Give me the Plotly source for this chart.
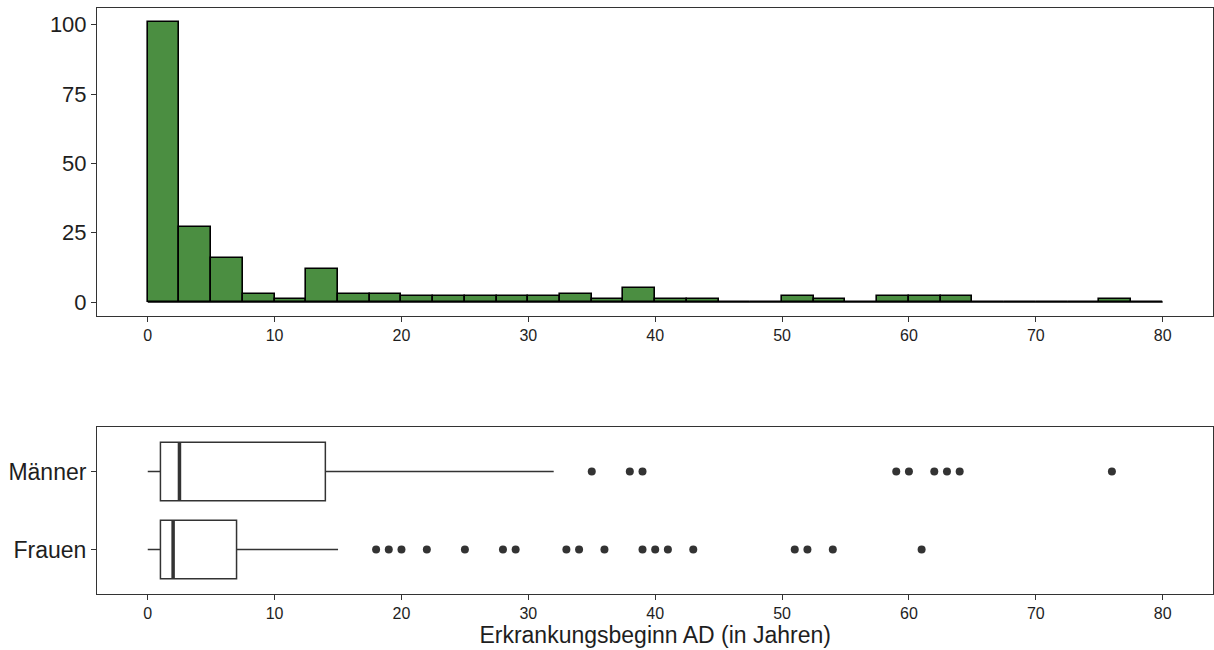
import numpy as np
import plotly.graph_objects as go

# ---------------- data ----------------
bin_width = 2.5
bin_starts = [i * 2.5 for i in range(32)]  # 0 .. 77.5
counts = [101, 27, 16, 3, 1, 12, 3, 3, 2, 2, 2, 2, 2, 3, 1, 5,
          1, 1, 0, 0, 2, 1, 0, 2, 2, 2, 0, 0, 0, 0, 1, 0]

groups = ["Frauen", "Männer"]
group_pos = [1, 2]
lowerfence = [0, 0]
q1 = [1, 1]
median = [2, 2.5]
q3 = [7, 14]
upperfence = [15, 32]
outliers_frauen = [18, 19, 20, 22, 25, 28, 29, 33, 34, 36, 39, 40, 41, 43, 51, 52, 54, 61]
outliers_maenner = [35, 38, 39, 59, 60, 62, 63, 64, 76]

x_ticks = [0, 10, 20, 30, 40, 50, 60, 70, 80]
y_ticks_hist = [0, 25, 50, 75, 100]
x_title = "Erkrankungsbeginn AD (in Jahren)"

# ---------------- style ----------------
FONT = "Liberation Sans, Arial, sans-serif"
GREEN = "#4B8E41"
DARK = "#333333"
TICKCOL = "#1E1E1E"
box_w = 0.75

fig = go.Figure()

# histogram bars
centers = [s + bin_width / 2 for s in bin_starts]
fig.add_trace(go.Bar(
    x=centers, y=counts, width=[bin_width] * len(counts),
    marker=dict(color=GREEN, line=dict(color="black", width=1.6)),
    xaxis="x", yaxis="y", showlegend=False, hoverinfo="x+y"))
# zero-height bins baseline
fig.add_trace(go.Scatter(
    x=[bin_starts[0], bin_starts[-1] + bin_width], y=[0, 0], mode="lines",
    line=dict(color="black", width=1.6), xaxis="x", yaxis="y",
    showlegend=False, hoverinfo="skip"))

# boxplots
for i, g in enumerate(groups):
    fig.add_trace(go.Box(
        y=[group_pos[i]], q1=[q1[i]], median=[median[i]], q3=[q3[i]],
        lowerfence=[lowerfence[i]], upperfence=[upperfence[i]],
        orientation="h", width=box_w, whiskerwidth=0,
        fillcolor="white", line=dict(color=DARK, width=1.5),
        xaxis="x2", yaxis="y2", showlegend=False, name=g))
    # thicker median line (ggplot style)
    fig.add_trace(go.Scatter(
        x=[median[i], median[i]],
        y=[group_pos[i] - box_w / 2, group_pos[i] + box_w / 2],
        mode="lines", line=dict(color=DARK, width=3.5),
        xaxis="x2", yaxis="y2", showlegend=False, hoverinfo="skip"))

for vals, pos in [(outliers_frauen, group_pos[0]), (outliers_maenner, group_pos[1])]:
    fig.add_trace(go.Scatter(
        x=vals, y=[pos] * len(vals), mode="markers",
        marker=dict(color=DARK, size=8),
        xaxis="x2", yaxis="y2", showlegend=False))

H = 650.0
axis_common = dict(showline=True, mirror=True, linecolor=DARK, linewidth=1,
                   ticks="outside", ticklen=5, tickcolor=DARK, tickwidth=1,
                   showgrid=False, zeroline=False, automargin=False)

fig.update_layout(
    width=1214, height=650,
    margin=dict(l=0, r=0, t=0, b=0),
    paper_bgcolor="white", plot_bgcolor="white",
    font=dict(family=FONT, color="black"),
    bargap=0,
    xaxis=dict(domain=[97 / 1214, 0.9995], range=[-4, 84], anchor="y",
               tickvals=x_ticks, tickfont=dict(size=16, color=TICKCOL),
               **axis_common),
    yaxis=dict(domain=[1 - 316 / H, 1 - 8 / H], range=[-5.05, 106.05], anchor="x",
               tickvals=y_ticks_hist, tickfont=dict(size=22, color=TICKCOL),
               **axis_common),
    xaxis2=dict(domain=[97 / 1214, 0.9995], range=[-4, 84], anchor="y2",
                tickvals=x_ticks, tickfont=dict(size=16, color=TICKCOL),
                title=dict(text=x_title, font=dict(size=23, color=TICKCOL), standoff=4),
                **axis_common),
    yaxis2=dict(domain=[1 - 594 / H, 1 - 427 / H], range=[0.43, 2.57], anchor="x2",
                tickvals=group_pos, ticktext=groups,
                tickfont=dict(size=23, color=TICKCOL),
                **axis_common),
)

fig.write_html("out.html")
